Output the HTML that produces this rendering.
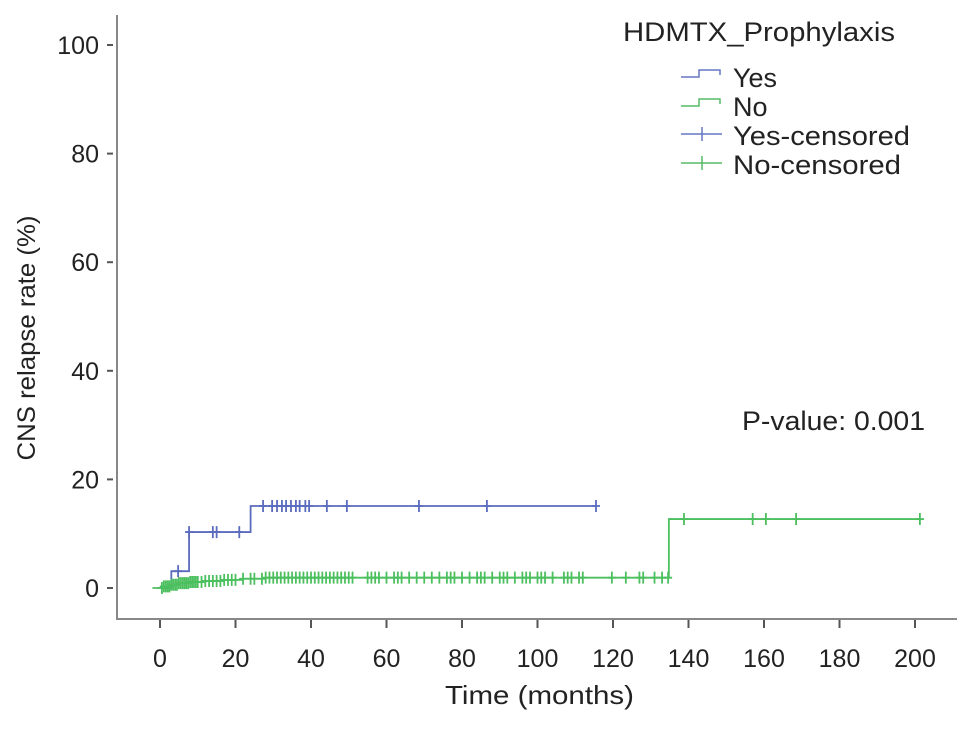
<!DOCTYPE html>
<html><head><meta charset="utf-8"><style>
body{margin:0;background:#fff;}
svg text{font-family:"Liberation Sans",Arial,sans-serif;fill:#222;}
</style></head><body>
<svg id="chart" width="969" height="728" viewBox="0 0 969 728" xmlns="http://www.w3.org/2000/svg">
<g id="axes"></g>
<g id="series"></g>
<g>
<text x="623" y="41" font-size="27" textLength="272" lengthAdjust="spacingAndGlyphs">HDMTX_Prophylaxis</text>
<g><path d="M681,77 H699 V70 H720 V75" fill="none" stroke="#6677c4" stroke-width="1.5"/><text x="733" y="87" font-size="27">Yes</text></g>
<g><path d="M681,106 H699 V99 H720 V104" fill="none" stroke="#55bb66" stroke-width="1.5"/><text x="733" y="116" font-size="27">No</text></g>
<g><path d="M681,134 H722 M702,127 V141" fill="none" stroke="#6677c4" stroke-width="1.5"/><text x="733" y="145" font-size="27" textLength="177" lengthAdjust="spacingAndGlyphs">Yes-censored</text></g>
<g><path d="M681,163 H722 M702,156 V170" fill="none" stroke="#55bb66" stroke-width="1.5"/><text x="733" y="174" font-size="27" textLength="168" lengthAdjust="spacingAndGlyphs">No-censored</text></g>
</g>
<text x="742" y="430" font-size="27" textLength="183" lengthAdjust="spacingAndGlyphs">P-value: 0.001</text>
<text x="445" y="704" font-size="26" textLength="189" lengthAdjust="spacingAndGlyphs">Time (months)</text>
<text transform="translate(35,338) rotate(-90)" font-size="25" text-anchor="middle" textLength="245" lengthAdjust="spacingAndGlyphs">CNS relapse rate (%)</text>
</svg>
<script>
const xTicks=[0,20,40,60,80,100,120,140,160,180,200];
const yTicks=[0,20,40,60,80,100];
const yesTimes=[0,3,7.7,24,115.5];
const yesValues=[0,3.1,10.3,15.1,15.1];
const yesCensor=[4.8,7.7,14,15,21,27.3,29.7,31,32.3,33.4,34.7,36,37,38.5,39.5,44.2,49.5,68.6,86.6,115.5];
const noTimes=[-2,1,3,5,8,12,17,22,28,134.8,201.3];
const noValues=[0,0.3,0.6,0.9,1.1,1.3,1.5,1.7,1.9,12.7,12.7];
const noCensor=[0.5,1,1.5,2,2.5,3,3.5,4,4.5,5,5.5,6,6.5,7,7.5,8,8.5,9,9.5,10,11,12,13,14,15,16,17,18,19,20,22,24,25,27,28,29,30,31,32,33,34,35,36,37,38,39,40,41,42,43,44,45,46,47,48,49,50,51,55,56,57,58,60,62,63,64,66,68,70,72,74,76,77,78,80,82,84,85,86,88,90,91,92,94,96,97,98,100,101,102,104,107,108,109,111,112,119.7,123.4,127,128,131,133,134.6,138.8,157,160.5,168.5,201.3];
const X=t=>160+t*3.775, Y=v=>588-v*5.43;
const NS="http://www.w3.org/2000/svg";
function mk(tag,attrs,parent){const e=document.createElementNS(NS,tag);for(const k in attrs)e.setAttribute(k,attrs[k]);parent.appendChild(e);return e;}
const ax=document.getElementById('axes');
const yl=mk('line',{x1:117,y1:15,x2:117,y2:619,stroke:'#888','stroke-width':2},ax);


const xl=mk('line',{x1:116,y1:619,x2:957,y2:619,stroke:'#888','stroke-width':2},ax);


xTicks.forEach(t=>{
 mk('line',{x1:X(t),y1:620,x2:X(t),y2:628,stroke:'#555','stroke-width':2},ax);
 const tx=mk('text',{x:X(t),y:667,'font-size':25,'text-anchor':'middle'},ax);tx.textContent=t;
 
 
});
yTicks.forEach(v=>{
 mk('line',{x1:107,y1:Y(v),x2:113,y2:Y(v),stroke:'#555','stroke-width':2},ax);
 const tx=mk('text',{x:99,y:Y(v)+9,'font-size':25,'text-anchor':'end'},ax);tx.textContent=v;
 
 
});
const sg=document.getElementById('series');
function step(times,vals,color,name){
 let d='M'+X(times[0])+','+Y(vals[0]);
 for(let i=1;i<times.length;i++){d+=' H'+X(times[i])+' V'+Y(vals[i]);}
 const p=mk('path',{d:d,fill:'none',stroke:color,'stroke-width':1.8},sg);
 
 
}
function valAt(times,vals,t){let v=vals[0];for(let i=0;i<times.length;i++){if(times[i]<=t)v=vals[i];}return v;}
function cens(ts,times,vals,color,name){
 ts.forEach(t=>{const v=valAt(times,vals,t);
 const p=mk('path',{d:'M'+X(t)+','+(Y(v)-6)+' V'+(Y(v)+6)+' M'+(X(t)-4)+','+Y(v)+' H'+(X(t)+4),stroke:color,'stroke-width':1.8},sg);
 
 });
}
step(noTimes,noValues,'#4cbf5f','no-curve');
step(yesTimes,yesValues,'#5b6bbd','yes-curve');
cens(noCensor,noTimes,noValues,'#4cbf5f','no-censor-mark');
cens(yesCensor,yesTimes,yesValues,'#5b6bbd','yes-censor-mark');
</script>
</body></html>
